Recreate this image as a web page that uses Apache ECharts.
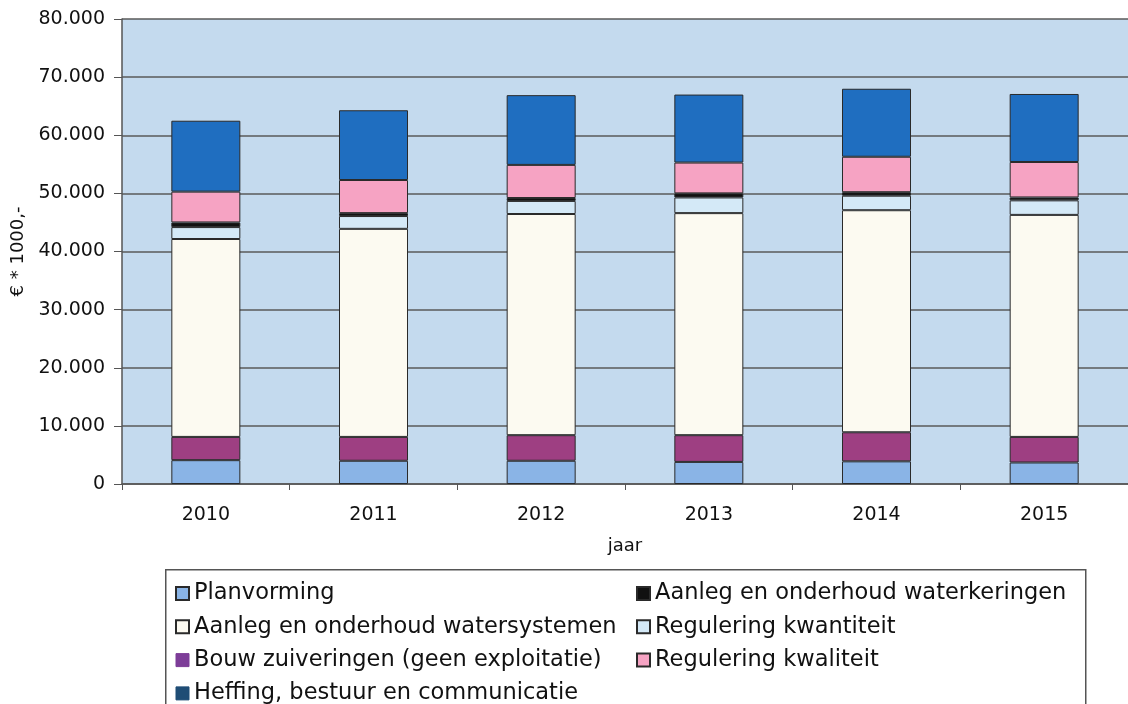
<!DOCTYPE html>
<html>
<head>
<meta charset="utf-8">
<script src="https://cdn.jsdelivr.net/npm/echarts@6/dist/echarts.min.js"></script>
<style>
  html, body { margin: 0; padding: 0; background: #ffffff; }
  #chart { width: 1128px; height: 704px; }
</style>
</head>
<body>
<div id="chart"></div>
<script>
const years = ['2010', '2011', '2012', '2013', '2014', '2015'];
const yTicks = [0, 10000, 20000, 30000, 40000, 50000, 60000, 70000, 80000];

// stacked values (€ * 1000)
const planvorming      = [4100, 4000, 4000, 3800, 3900, 3700];
const bouwZuiveringen  = [4000, 4100, 4400, 4600, 5000, 4400];
const watersystemen    = [34050, 35800, 38050, 38200, 38200, 38200];
const kwantiteit       = [2050, 2200, 2250, 2700, 2500, 2500];
const waterkeringen    = [800, 500, 500, 700, 600, 500];
const kwaliteit        = [5300, 5700, 5700, 5300, 6100, 6100];
const heffing          = [12200, 12000, 12000, 11700, 11700, 11700];

const names = {
  plan: 'Planvorming',
  kering: 'Aanleg en onderhoud waterkeringen',
  systeem: 'Aanleg en onderhoud watersystemen',
  kwant: 'Regulering kwantiteit',
  bouw: 'Bouw zuiveringen (geen exploitatie)',
  kwal: 'Regulering kwaliteit',
  heff: 'Heffing, bestuur en communicatie'
};

const FONT = 'DejaVu Sans';

function fmt(v) {
  if (v === 0) return '0';
  const s = String(Math.round(v));
  return s.replace(/\B(?=(\d{3})+(?!\d))/g, '.');
}

function bar(name, data, color) {
  return {
    name: name, type: 'bar', stack: 'total', data: data,
    barWidth: 69,
    itemStyle: { color: color, borderColor: '#2a2a2a', borderWidth: 1 },
    emphasis: { disabled: true }
  };
}

const chart = echarts.init(document.getElementById('chart'), null, { renderer: 'canvas' });

const legendText = { fontFamily: FONT, fontSize: 22.5, color: '#111', lineHeight: 22 };

chart.setOption({
  animation: false,
  backgroundColor: '#ffffff',
  grid: {
    left: 122, top: 19, width: 1017, height: 465,
    show: true, backgroundColor: '#c4daee', borderWidth: 0
  },
  xAxis: {
    type: 'category',
    data: years,
    name: 'jaar',
    nameLocation: 'middle',
    nameGap: 53,
    nameTextStyle: { fontFamily: FONT, fontSize: 18, color: '#111' },
    axisLine: { lineStyle: { color: '#555', width: 1.5 } },
    axisTick: { show: true, alignWithLabel: false, length: 6, lineStyle: { color: '#555' } },
    axisLabel: { fontFamily: FONT, fontSize: 19, color: '#111', margin: 22 }
  },
  yAxis: {
    type: 'value',
    min: 0, max: 80000, interval: 10000,
    name: '€ * 1000,-',
    nameLocation: 'middle',
    nameGap: 80,
    nameRotate: 90,
    nameTextStyle: { fontFamily: FONT, fontSize: 18, color: '#111' },
    axisLine: { show: true, lineStyle: { color: '#555', width: 1.5 } },
    axisTick: { show: true, length: 8, lineStyle: { color: '#555' } },
    axisLabel: { fontFamily: FONT, fontSize: 19, color: '#111', margin: 17, formatter: fmt },
    splitLine: { show: true, lineStyle: { color: '#5a5a5a', width: 1.5 } }
  },
  legend: [
    {
      orient: 'vertical', left: 175, top: 582, height: 130, padding: 0,
      itemWidth: 13, itemHeight: 13, itemGap: 10.3,
      icon: 'rect',
      textStyle: legendText,
      data: [
        { name: names.plan },
        { name: names.systeem },
        { name: names.bouw, itemStyle: { color: '#7d3d98', borderColor: '#7d3d98', borderWidth: 1 } },
        { name: names.heff, itemStyle: { color: '#1f4d75', borderColor: '#1f4d75', borderWidth: 1 } }
      ],
      selectedMode: false
    },
    {
      orient: 'vertical', left: 636, top: 582, height: 130, padding: 0,
      itemWidth: 13, itemHeight: 13, itemGap: 10.3,
      icon: 'rect',
      textStyle: legendText,
      data: [names.kering, names.kwant, names.kwal],
      selectedMode: false
    }
  ],
  graphic: [
    {
      type: 'rect', left: 165, top: 569, silent: true, z: -1,
      shape: { width: 920, height: 150 },
      style: { fill: '#ffffff', stroke: '#555', lineWidth: 1.5 }
    }
  ],
  series: [
    bar(names.plan, planvorming, '#8ab4e6'),
    bar(names.bouw, bouwZuiveringen, '#9e3f82'),
    bar(names.systeem, watersystemen, '#fcfaf1'),
    bar(names.kwant, kwantiteit, '#d4e9f7'),
    bar(names.kering, waterkeringen, '#111111'),
    bar(names.kwal, kwaliteit, '#f6a3c3'),
    bar(names.heff, heffing, '#1f6ec0')
  ]
});
</script>
</body>
</html>
